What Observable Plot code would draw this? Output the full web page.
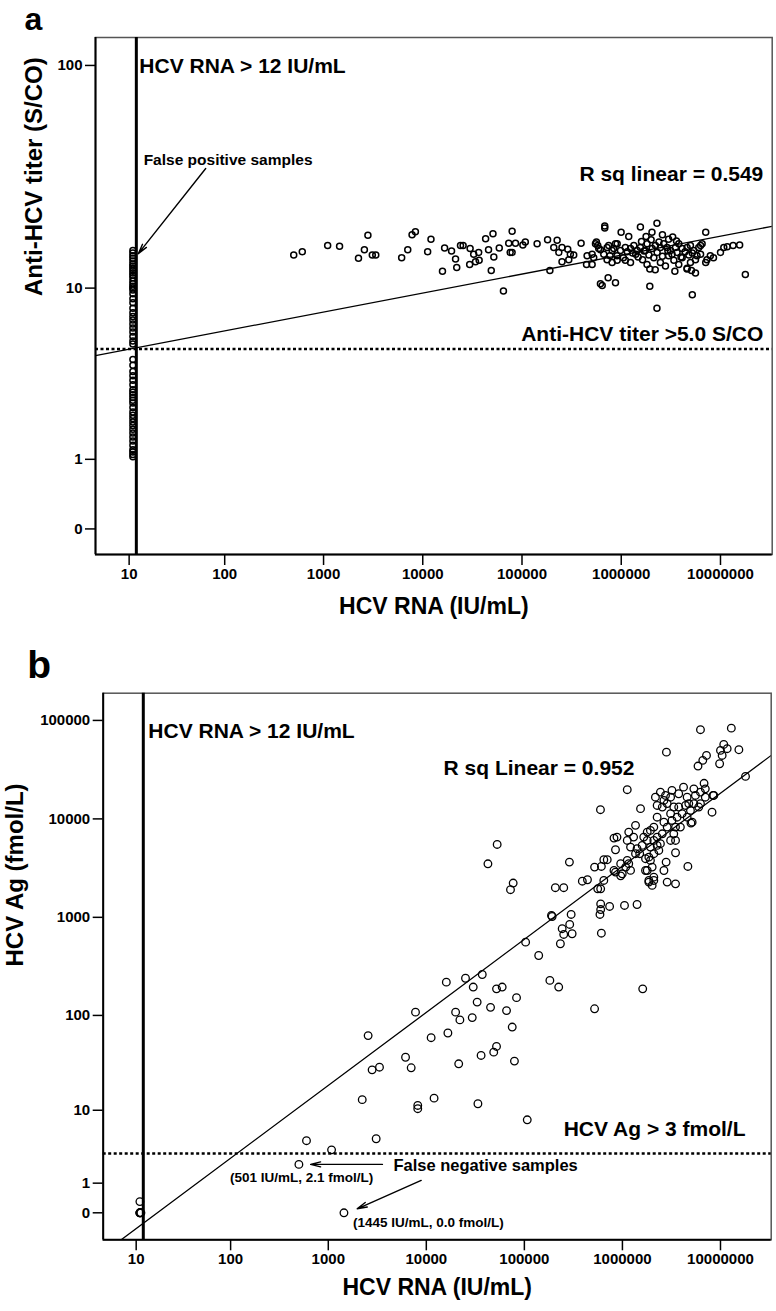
<!DOCTYPE html>
<html><head><meta charset="utf-8">
<script src="https://cdn.jsdelivr.net/npm/d3@7"></script>
<script src="https://cdn.jsdelivr.net/npm/@observablehq/plot@0.6"></script>
<style>
html,body{margin:0;padding:0;background:#fff;overflow:hidden}
#wrap{position:relative;width:776px;height:1311px}
#pa{position:absolute;left:0;top:0}
#pb{position:absolute;left:0;top:620px}
</style></head><body>
<div id="wrap"><div id="pa"></div><div id="pb"></div></div>
<script>
// ---------- Data: panel a (HCV RNA vs Anti-HCV titer) ----------
// Samples with undetectable RNA, plotted at 11 IU/mL
const colA_rna = 11;
const colA_titer = [15.0,14.6,14.2,13.8,13.4,13.0,12.7,12.4,12.1,11.8,11.5,11.2,10.8,10.5,10.2,10.0,9.8,9.4,8.9,8.5,8.0,7.6,7.3,7.0,6.7,6.4,6.1,5.8,5.5,5.3,
  4.4,4.1,3.8,3.6,3.4,3.2,3.0,2.9,2.8,2.7,2.6,2.5,2.35,2.2,2.1,2.0,1.9,1.8,1.7,1.6,1.5,1.4,1.3,1.2,1.15,1.1,1.05];
const rnaA = [500,610,1100,1450,2800,2580,2250,3100,3360,6130,7060,7800,8430,12100,11200,16600,19500,21400,15800,22000,24000,
  25500,30000,32600,36600,34000,29700,37000,43000,51000,46000,52000,59000,49000,65000,73500,79500,76000,79500,86000,102000,108000,142000,181000,226000,209000,235000,253000,289000,307000,332000,296000,253000,191000,394000,447000,509000,562000,580000,617000,682000,682000,617000,643000,738000,875000,528000,721000,809000,908000,997000,1100000,1190000,1560000,1780000,2040000,2290000,2600000,3300000,1940000,2200000,1940000,2290000,3470000,4600000,5100000,5600000,5200000,7100000,6300000,7300000,8500000,10000000,10800000,11700000,13400000,15600000,17800000,
  748000,841000,910000,982000,1100000,1240000,1340000,1450000,1560000,1750000,1820000,2050000,2210000,2480000,2680000,2900000,3130000,3520000,3800000,4110000,4610000,4980000,5380000,6040000,6530000,
  770000,910000,1050000,1240000,1400000,1640000,1820000,2130000,2480000,2790000,3000000,3390000,3800000,4110000,4610000,4980000,5600000,6300000,7100000,7900000,
  453000,509000,550000,593000,667000,720000,810000,875000,
  1150000,1300000,1480000,1700000,1900000,2300000,2600000,2950000,3250000,3650000,4000000,4400000,4800000,5200000,5800000,1600000,2000000,2400000,3000000,3600000];
const titerA = [14.3,14.8,15.8,15.7,17.6,15.1,13.8,14.3,14.3,13.9,15.1,17.7,18.3,16.9,14.8,15.4,14.9,13.7,12.0,12.5,15.8,
  15.8,15.3,14.4,14.7,13.3,12.9,13.5,17.0,17.9,15.1,14.0,15.4,12.1,9.7,16.2,18.4,14.7,14.7,16.2,15.9,16.4,16.1,16.8,16.7,15.5,14.7,15.5,15.2,14.4,14.3,13.6,13.3,12.1,16.2,12.9,12.9,16.4,15.8,15.1,19.4,19.0,10.5,10.3,11.2,10.6,13.9,15.5,13.2,14.2,18.2,13.5,17.4,19.2,17.4,18.2,20.0,17.7,17.3,12.3,12.2,10.2,8.0,12.0,12.3,12.1,11.8,9.3,18.2,15.8,13.6,13.9,14.7,15.5,15.6,15.8,15.9,11.6,
  15.8,15.3,16.1,15.0,15.5,15.3,15.8,15.0,15.5,15.0,16.1,15.3,15.8,15.5,16.1,15.5,15.0,15.5,16.1,15.3,15.5,15.8,15.0,15.5,16.1,
  14.2,13.5,13.9,13.2,14.4,13.6,12.9,13.9,13.2,12.7,14.2,13.5,12.9,13.9,12.4,13.2,13.6,14.4,13.2,14.2,
  14.2,14.4,16.1,15.3,14.4,13.6,15.0,16.1,
  14.8,14.6,14.0,14.9,14.3,14.7,14.1,14.9,14.4,14.7,14.0,14.8,14.3,14.6,14.2,16.5,16.8,16.4,16.9,16.6];
const fitA = {intercept: 0.692, slope: 0.0820}; // linear fit in log10(1+v) units, R² = 0.549

// ---------- Data: panel b (HCV RNA vs HCV Ag) ----------
const rnaB = [11,11,11,11,11.3,
  2550,2800,3330,2220,599,1080,3080,501,1445,
  6140,7010,21400,36200,48700,52000,79200,8180,8180,12000,33600,107000,
  7760,19900,22000,29400,33000,45200,83200,65800,75200,16600,11200,16000,25100,37200,30100,52000,59400,182000,224000,1610000,520000,103000,140000,189000,300000,243000,290000,252000,307000,233000,
  52800,42500,76900,72200,288000,207000,252000,390000,440000,192000,
  520000,820000,880000,850000,610000,646000,700000,600000,646000,560000,600000,590000,600000,740000,610000,1050000,1410000,
  6250000,12900000,2810000,15400000,10800000,10000000,11700000,10400000,9800000,7200000,6600000,5900000,18000000,1120000,597000,1530000,2790000,4650000,3480000,8200000,6800000,8400000,5000000,
  1160000,1360000,1410000,1590000,1500000,1930000,2090000,2260000,2440000,2350000,1790000,1860000,2010000,1720000,960000,1080000,1160000,996000,850000,
  2550000,2860000,3100000,3340000,3200000,3480000,
  2440000,2750000,3200000,3750000,4200000,4570000,5550000,6250000,7000000,8550000,
  3750000,4060000,4400000,4940000,5350000,6000000,5140000,4570000,3610000,3900000,3340000,3100000,3480000,
  2650000,2860000,2550000,2260000,
  2090000,2260000,1930000,1650000,1790000,
  1120000,1300000,1210000,1360000,1720000,1930000,2090000,
  1860000,2090000,2860000,3480000,2650000,
  5350000,6250000,7000000,4750000,3100000,2650000,2260000,2170000,
  820000,960000,1120000,1210000,1790000,2090000,2010000,1860000];
const agB = [0.3,0,0,0,0,
  62,27.3,29.1,13.1,4.4,3.36,4.65,2.1,0,
  37,28.7,31.6,38.6,41.8,47.9,33.7,11.3,10.4,13.6,11.8,7.8,
  108,108,90,95,137,121,152,112,76,66,59,219,240,262,195,187,195,228,195,187,117,559,409,1045,1070,766,847,670,681,539,
  5500,3500,2230,1910,3640,2000,2000,2330,2410,1020,
  3240,6380,6530,4860,3290,3850,3850,1950,2370,1950,1370,1070,1200,1290,690,1320,1350,
  80500,83500,47600,50400,57000,49600,51600,44100,36300,44100,39300,34400,27000,19800,12400,12700,3640,3290,4530,11700,23000,17300,9060,
  7340,8600,4980,5380,4430,7640,8250,6530,5600,4780,6040,4090,3240,2990,3510,3240,3510,2770,2880,
  13200,14300,11300,13200,9640,8250,
  18700,17300,19500,18000,21000,16600,17300,14300,16600,17300,
  13200,11300,13700,12200,14300,13200,9270,10400,10400,8250,7060,6040,6040,
  9270,8250,7060,10400,
  6040,5380,5170,6530,7340,
  6040,6530,5170,4430,3940,3790,4430,
  2280,2370,2280,2190,2990,
  20200,18700,20200,14300,16600,15400,13700,16600,
  2990,2640,3790,3000,2990,2560,2110,2370];
const fitB = {intercept: -0.933, slope: 0.742}; // linear fit in log10(1+v) units, R² = 0.952

// ---------- Axis ticks ----------
const xTicks = [10,100,1000,10000,100000,1000000,10000000];
const yTicksA = [0,1,10,100];
const yTicksB = [0,1,10,100,1000,10000,100000];

// ---------- helpers ----------
const T = v => Math.sign(v) * Math.log10(1 + Math.abs(v));
const inv = t => Math.sign(t) * (Math.pow(10, Math.abs(t)) - 1);
const fitLine = (fit, dom) => [T(dom[0]), T(dom[1])].map(tx => ({x: inv(tx), y: inv(fit.intercept + fit.slope * tx)}));

const font = '"Liberation Sans", Arial, Helvetica, sans-serif';
const style = {fontFamily: font, fontWeight: "bold", color: "#000", background: "#fff", overflow: "visible"};
const fmt = d => String(d);
const arrowStyle = {x1: "x1", y1: "y1", x2: "x2", y2: "y2", strokeWidth: 1.4, headLength: 11, headAngle: 28};

const xDomainA = [4.04, 3.32e7], yDomainA = [-0.29, 132.4];
const xDomainB = [4.07, 3.29e7], yDomainB = [-0.88, 189000];

const tableA = [...colA_titer.map(t => ({rna: colA_rna, v: t})), ...rnaA.map((r, i) => ({rna: r, v: titerA[i]}))];
const tableB = rnaB.map((r, i) => ({rna: r, v: agB[i]}));

// ---------- Panel a ----------
const chartA = Plot.plot({
  width: 776, height: 620,
  marginTop: 37, marginLeft: 95, marginRight: 4.3, marginBottom: 66,
  x: {type: "symlog", constant: 1, domain: xDomainA},
  y: {type: "symlog", constant: 1, domain: yDomainA},
  style,
  marks: [
    Plot.frame({stroke: "#555", strokeWidth: 1.5}),
    Plot.ruleX([xDomainA[0]], {strokeWidth: 2}),
    Plot.ruleY([yDomainA[0]], {strokeWidth: 2}),
    Plot.axisX({ticks: xTicks, tickFormat: fmt, tickSize: 11, tickPadding: 3, fontSize: 15, strokeWidth: 1.5, label: null}),
    Plot.axisY({ticks: yTicksA, tickFormat: fmt, tickSize: 10, tickPadding: 3, fontSize: 15, strokeWidth: 1.5, label: null}),
    Plot.ruleY([5], {strokeDasharray: "3,2.5", strokeWidth: 2.5}),
    Plot.line(fitLine(fitA, xDomainA), {x: "x", y: "y", strokeWidth: 1.3, clip: true}),
    Plot.dot(tableA, {x: "rna", y: "v", r: 3, stroke: "black", strokeWidth: 1.5}),
    Plot.ruleX([12], {strokeWidth: 3}),
    Plot.text(["HCV RNA > 12 IU/mL"], {x: 12, y: 93, text: d => d, dx: 3, textAnchor: "start", lineAnchor: "bottom", fontSize: 21}),
    Plot.text(["R sq linear = 0.549"], {x: 2.7e7, y: 31, text: d => d, textAnchor: "end", lineAnchor: "bottom", fontSize: 21}),
    Plot.text(["Anti-HCV titer >5.0 S/CO"], {x: 2.7e7, y: 5, dy: -8, text: d => d, textAnchor: "end", lineAnchor: "bottom", fontSize: 21}),
    Plot.text(["False positive samples"], {x: 14.4, y: 36.3, text: d => d, textAnchor: "start", lineAnchor: "bottom", fontSize: 15.5}),
    Plot.arrow([{x1: 64, y1: 35.2, x2: 12.6, y2: 14.5}], arrowStyle),
    Plot.text(["a"], {frameAnchor: "top-left", text: d => d, dx: -71, dy: -8, lineAnchor: "bottom", textAnchor: "start", fontSize: 32}),
    Plot.text(["HCV RNA (IU/mL)"], {frameAnchor: "bottom", text: d => d, dy: 59.2, lineAnchor: "bottom", fontSize: 23}),
    Plot.text(["Anti-HCV titer (S/CO)"], {frameAnchor: "left", text: d => d, rotate: -90, dx: -61, fontSize: 24})
  ]
});
document.getElementById("pa").append(chartA);

// ---------- Panel b ----------
const chartB = Plot.plot({
  width: 776, height: 691,
  marginTop: 72.7, marginLeft: 102.7, marginRight: 5.3, marginBottom: 71.7,
  x: {type: "symlog", constant: 1, domain: xDomainB},
  y: {type: "symlog", constant: 1, domain: yDomainB},
  style,
  marks: [
    Plot.frame({stroke: "#555", strokeWidth: 1.5}),
    Plot.ruleX([xDomainB[0]], {strokeWidth: 2}),
    Plot.ruleY([yDomainB[0]], {strokeWidth: 2}),
    Plot.axisX({ticks: xTicks, tickFormat: fmt, tickSize: 11, tickPadding: 3, fontSize: 15, strokeWidth: 1.5, label: null}),
    Plot.axisY({ticks: yTicksB, tickFormat: fmt, tickSize: 10, tickPadding: 3, fontSize: 15, strokeWidth: 1.5, label: null}),
    Plot.ruleY([3], {strokeDasharray: "3,2.5", strokeWidth: 2.5}),
    Plot.line(fitLine(fitB, xDomainB), {x: "x", y: "y", strokeWidth: 1.3, clip: true}),
    Plot.dot(tableB, {x: "rna", y: "v", r: 3.8, stroke: "black", strokeWidth: 1.3}),
    Plot.ruleX([12], {strokeWidth: 3}),
    Plot.text(["HCV RNA > 12 IU/mL"], {x: 12, y: 67000, text: d => d, dx: 5, textAnchor: "start", lineAnchor: "bottom", fontSize: 21}),
    Plot.text(["R sq Linear = 0.952"], {x: 15000, y: 27600, text: d => d, textAnchor: "start", lineAnchor: "bottom", fontSize: 21}),
    Plot.text(["HCV Ag > 3 fmol/L"], {x: 1.8e7, y: 3, dy: -18, text: d => d, textAnchor: "end", lineAnchor: "bottom", fontSize: 21}),
    Plot.text(["False negative samples"], {x: 4620, y: 1.65, text: d => d, textAnchor: "start", lineAnchor: "bottom", fontSize: 16.5}),
    Plot.arrow([{x1: 3570, y1: 2.1, x2: 660, y2: 2.1}, {x1: 8870, y1: 1.13, x2: 1970, y2: 0.098}], arrowStyle),
    Plot.text(["(501 IU/mL, 2.1 fmol/L)"], {x: 501, y: 2.1, dx: -69, dy: 18, text: d => d, textAnchor: "start", lineAnchor: "bottom", fontSize: 13.5}),
    Plot.text(["(1445 IU/mL, 0.0 fmol/L)"], {x: 1445, y: 0, dx: 9, dy: 14.4, text: d => d, textAnchor: "start", lineAnchor: "bottom", fontSize: 13.5}),
    Plot.text(["b"], {frameAnchor: "top-left", text: d => d, dx: -76, dy: -15.7, lineAnchor: "bottom", textAnchor: "start", fontSize: 39}),
    Plot.text(["HCV RNA (IU/mL)"], {frameAnchor: "bottom", text: d => d, dy: 55.5, lineAnchor: "bottom", fontSize: 23}),
    Plot.text(["HCV Ag (fmol/L)"], {frameAnchor: "left", text: d => d, rotate: -90, dx: -88, fontSize: 24})
  ]
});
document.getElementById("pb").append(chartB);
</script>
</body></html>
